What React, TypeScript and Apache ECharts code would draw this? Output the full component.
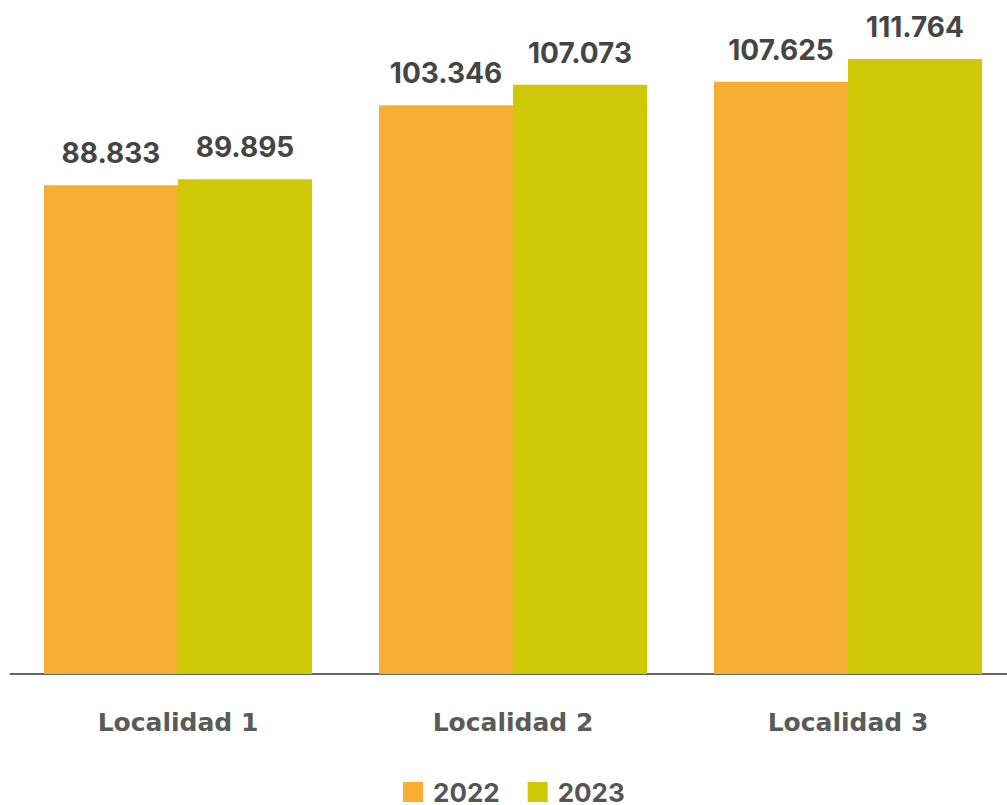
import React, { useEffect, useRef } from "react";
import * as echarts from "echarts";

const categories = ["Localidad 1", "Localidad 2", "Localidad 3"];
const seriesNames = ["2022", "2023"];
const values2022 = [88833, 103346, 107625];
const values2023 = [89895, 107073, 111764];
const colors = ["#F7AF33", "#CFC806"];

const fmt = (v: number) => String(v).replace(/\B(?=(\d{3})+(?!\d))/g, ".");

export default function App() {
  const ref = useRef<HTMLDivElement>(null);
  useEffect(() => {
    if (!ref.current) return;
    const chart = echarts.init(ref.current, undefined, { renderer: "svg" });
    const font = "Inter, 'Noto Sans', sans-serif";
    const label = {
      show: true,
      position: "top",
      distance: 18,
      formatter: (p: any) => fmt(p.value),
      color: "#454545",
      fontFamily: font,
      fontWeight: 700,
      fontSize: 28,
    };
    chart.setOption({
      animation: false,
      color: colors,
      grid: { left: 10.5, width: 1005, top: 13.64, height: 660.36, containLabel: false, outerBoundsMode: "none" },
      legend: {
        top: 779,
        left: 403,
        padding: 0,
        itemWidth: 20,
        itemHeight: 20,
        itemGap: 28,
        icon: "rect",
        data: seriesNames,
        textStyle: {
          color: "#555555",
          fontFamily: font,
          fontWeight: 700,
          fontSize: 26,
          lineHeight: 22,
          padding: [0, 0, 0, 5],
        },
      },
      xAxis: {
        type: "category",
        data: categories,
        axisLine: { lineStyle: { color: "#666666", width: 2 } },
        axisTick: { show: false },
        axisLabel: {
          margin: 36,
          color: "#5A5A5A",
          fontFamily: "'DejaVu Sans', sans-serif",
          fontWeight: 700,
          fontSize: 25,
        },
      },
      yAxis: {
        type: "value",
        min: 0,
        max: 120000,
        show: false,
        splitLine: { show: false },
      },
      series: [
        {
          name: seriesNames[0],
          type: "bar",
          data: values2022,
          barGap: "0%",
          barCategoryGap: "20%",
          label,
        },
        {
          name: seriesNames[1],
          type: "bar",
          data: values2023,
          barGap: "0%",
          barCategoryGap: "20%",
          label,
        },
      ],
    });
    return () => chart.dispose();
  }, []);
  return (
    <div style={{ position: "fixed", left: 0, top: 0, width: 1007, height: 805, overflow: "hidden", background: "#fff" }}>
      <div ref={ref} style={{ position: "absolute", left: 0, top: 0, width: 1030, height: 805 }} />
    </div>
  );
}
